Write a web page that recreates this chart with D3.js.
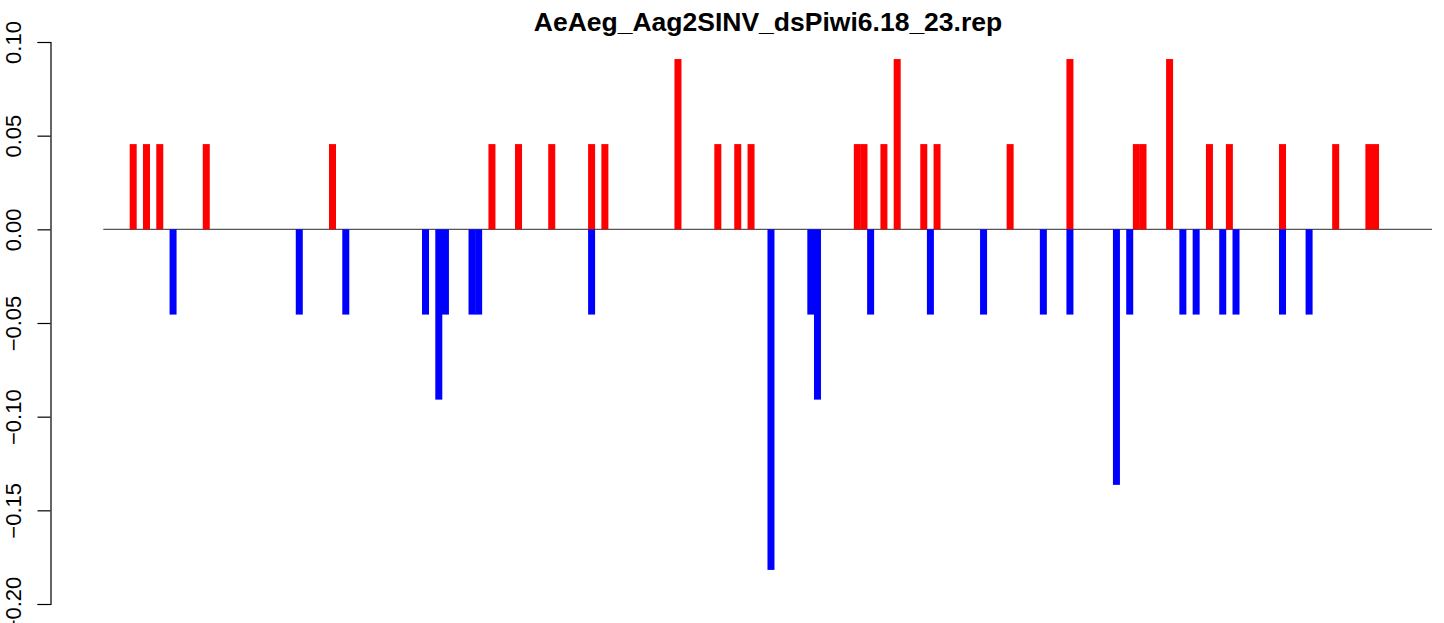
<!DOCTYPE html>
<html>
<head>
<meta charset="utf-8">
<script src="https://cdn.jsdelivr.net/npm/d3@7"></script>
<style>
  body { margin: 0; background: #fff; }
  svg { display: block; font-family: "Liberation Sans", Arial, sans-serif; }
</style>
</head>
<body>
<svg id="chart" width="1444" height="623"></svg>
<script>
var title = "AeAeg_Aag2SINV_dsPiwi6.18_23.rep";

// positions along the sequence and read fractions
var plusPos = [5, 7, 9, 16, 35, 59, 63, 68, 74, 76, 87, 93, 96, 98, 114, 115, 118, 120, 124, 126, 137, 146, 156, 157, 161, 167, 170, 178, 186, 191, 192];
var plusVal = [0.0455, 0.0455, 0.0455, 0.0455, 0.0455, 0.0455, 0.0455, 0.0455, 0.0455, 0.0455, 0.0909, 0.0455, 0.0455, 0.0455, 0.0455, 0.0455, 0.0455, 0.0909, 0.0455, 0.0455, 0.0455, 0.0909, 0.0455, 0.0455, 0.0909, 0.0455, 0.0455, 0.0455, 0.0455, 0.0455, 0.0455];

var minusPos = [11, 30, 37, 49, 51, 52, 56, 57, 74, 101, 107, 108, 116, 125, 133, 142, 146, 153, 155, 163, 165, 169, 171, 178, 182];
var minusVal = [-0.0455, -0.0455, -0.0455, -0.0455, -0.0909, -0.0455, -0.0455, -0.0455, -0.0455, -0.1818, -0.0455, -0.0909, -0.0455, -0.0455, -0.0455, -0.0455, -0.0455, -0.1364, -0.0455, -0.0455, -0.0455, -0.0455, -0.0455, -0.0455, -0.0455];

var seqRange = [0.5, 200.5];
var yTicks = [-0.20, -0.15, -0.10, -0.05, 0.00, 0.05, 0.10];

var svg = d3.select("#chart");

var x = d3.scaleLinear().domain(seqRange).range([103.3, 1432]);
var y = d3.scaleLinear().domain([-0.2, 0.1]).range([604, 42]);
var barW = 7;

function bars(pos, val, color) {
  var data = pos.map(function (p, i) { return { p: p, v: val[i] }; });
  svg.append("g")
    .selectAll("rect")
    .data(data)
    .enter()
    .append("rect")
    .attr("x", function (d) { return x(d.p) - barW / 2; })
    .attr("width", barW)
    .attr("y", function (d) { return Math.min(y(d.v), y(0)); })
    .attr("height", function (d) { return Math.abs(y(d.v) - y(0)); })
    .attr("fill", color);
}

// baseline first, bars on top of it
svg.append("line")
  .attr("x1", x(seqRange[0])).attr("x2", x(seqRange[1]))
  .attr("y1", y(0)).attr("y2", y(0))
  .attr("stroke", "#555")
  .attr("stroke-width", 1.2);

bars(plusPos, plusVal, "#ff0000");
bars(minusPos, minusVal, "#0000ff");

// y axis, R style: rotated labels
var axis = d3.axisLeft(y)
  .tickValues(yTicks)
  .tickSize(13)
  .tickPadding(10)
  .tickFormat(d3.format(".2f"));

var gy = svg.append("g")
  .attr("transform", "translate(50.5,0)")
  .call(axis);

gy.select(".domain").attr("stroke", "#000").attr("stroke-width", 1.2);
gy.selectAll(".tick line").attr("stroke", "#000").attr("stroke-width", 1.2);
gy.selectAll(".tick text")
  .attr("font-size", 22)
  .attr("fill", "#000")
  .attr("text-anchor", "middle")
  .attr("transform", null)
  .attr("x", null)
  .attr("dy", null)
  .attr("transform", "translate(-29.5,0) rotate(-90)");

svg.append("text")
  .attr("x", 768)
  .attr("y", 31)
  .attr("text-anchor", "middle")
  .attr("font-weight", "bold")
  .attr("font-size", 26.5)
  .text(title);
</script>
</body>
</html>
